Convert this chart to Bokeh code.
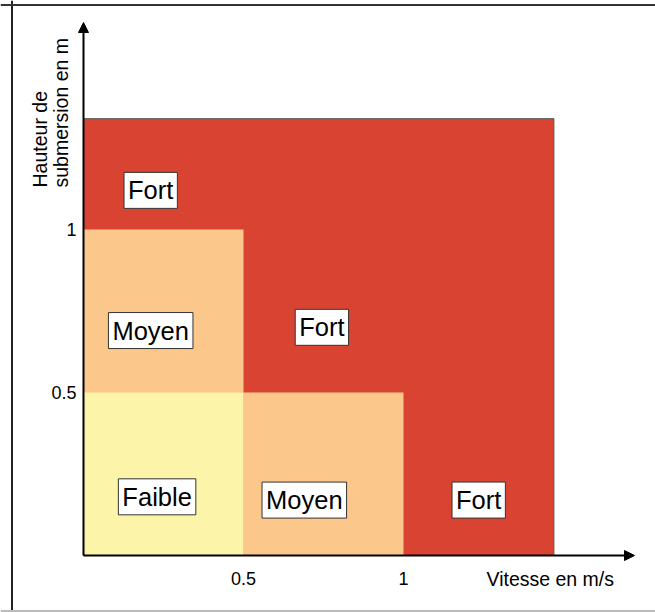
import math
from bokeh.plotting import figure
from bokeh.models import ColumnDataSource, Range1d, Arrow, NormalHead, Span
from bokeh.core.properties import value
from bokeh.embed import file_html
from bokeh.resources import INLINE

# ---- data ----
zone_left = [0.0, 0.0, 0.5, 0.0]
zone_right = [1.47, 0.5, 1.0, 0.5]
zone_bottom = [0.0, 0.0, 0.0, 0.0]
zone_top = [1.34, 1.0, 0.5, 0.5]
zone_level = ["Fort", "Moyen", "Moyen", "Faible"]

label_text = ["Fort", "Moyen", "Fort", "Faible", "Moyen", "Fort"]
label_x = [0.21, 0.21, 0.745, 0.23, 0.69, 1.235]
label_y = [1.12, 0.69, 0.70, 0.18, 0.17, 0.17]

x_ticks = [0.5, 1.0]
x_tick_labels = ["0.5", "1"]
y_ticks = [0.5, 1.0]
y_tick_labels = ["0.5", "1"]

x_title = "Vitesse en m/s"
y_title_lines = ["Hauteur de", "submersion en m"]

level_colors = {"Fort": "#D94432", "Moyen": "#FBC78A", "Faible": "#FBF4A9"}

# ---- layout (pixels) ----
W, H = 655, 612
X0 = 83      # pixel of x=0 from left
Y0 = 555     # pixel of y=0 from top
SX, SY = 320.0, 326.0

def dx(px):
    return (px - X0) / SX

def dy(py):
    return (Y0 - py) / SY

FONT = value("Liberation Sans")

p = figure(width=W, height=H, output_backend="svg", toolbar_location=None,
           x_axis_location=None, y_axis_location=None,
           x_range=Range1d(dx(0), dx(W)), y_range=Range1d(dy(H), dy(0)),
           min_border=0)
p.grid.visible = False
p.outline_line_color = None
p.background_fill_color = "white"
p.border_fill_color = "white"

# zones
for lvl in ["Fort", "Moyen", "Faible"]:
    idx = [i for i, l in enumerate(zone_level) if l == lvl]
    src = ColumnDataSource(dict(
        left=[zone_left[i] for i in idx], right=[zone_right[i] for i in idx],
        bottom=[zone_bottom[i] for i in idx], top=[zone_top[i] for i in idx]))
    p.quad(left="left", right="right", bottom="bottom", top="top", source=src,
           fill_color=level_colors[lvl],
           line_color="#555555" if lvl == "Fort" else None, line_width=1)

# axes with arrows
p.add_layout(Arrow(end=NormalHead(size=10, fill_color="black", line_color="black"),
                   x_start=0, y_start=0, x_end=dx(634), y_end=0,
                   line_color="black", line_width=2))
p.add_layout(Arrow(end=NormalHead(size=10, fill_color="black", line_color="black"),
                   x_start=0, y_start=0, x_end=0, y_end=dy(22),
                   line_color="black", line_width=2))

# tick labels
p.text(x=x_ticks, y=[dy(578)] * len(x_ticks), text=x_tick_labels,
       text_font=FONT, text_font_size="18px", text_color="black",
       text_align="center", text_baseline="middle")
p.text(x=[dx(76)] * len(y_ticks), y=y_ticks, text=y_tick_labels,
       text_font=FONT, text_font_size="18px", text_color="black",
       text_align="right", text_baseline="middle")

# axis titles
p.text(x=[dx(486)], y=[dy(578)], text=[x_title],
       text_font=FONT, text_font_size="19.5px", text_color="black",
       text_align="left", text_baseline="middle")
p.text(x=[dx(39), dx(60)], y=[dy(187), dy(187)], text=y_title_lines,
       angle=math.pi / 2, text_font=FONT, text_font_size="19.5px",
       text_color="black", text_align="left", text_baseline="alphabetic")

# region labels with boxes
lab_src = ColumnDataSource(dict(x=label_x, y=label_y, text=label_text))
p.text(x="x", y="y", text="text", source=lab_src,
       text_font=FONT, text_font_size="25.5px", text_color="black",
       text_align="center", text_baseline="middle",
       background_fill_color="white", border_line_color="#333333",
       border_line_width=1, padding=4)

# page frame (left, top, bottom)
p.add_layout(Span(location=dx(11.5), dimension="height", line_color="#222222", line_width=2))
p.add_layout(Span(location=dy(4.5), dimension="width", line_color="#333333", line_width=2))
p.add_layout(Span(location=dy(610.5), dimension="width", line_color="#bbbbbb", line_width=2))

open("out.html", "w").write(file_html(p, INLINE))
